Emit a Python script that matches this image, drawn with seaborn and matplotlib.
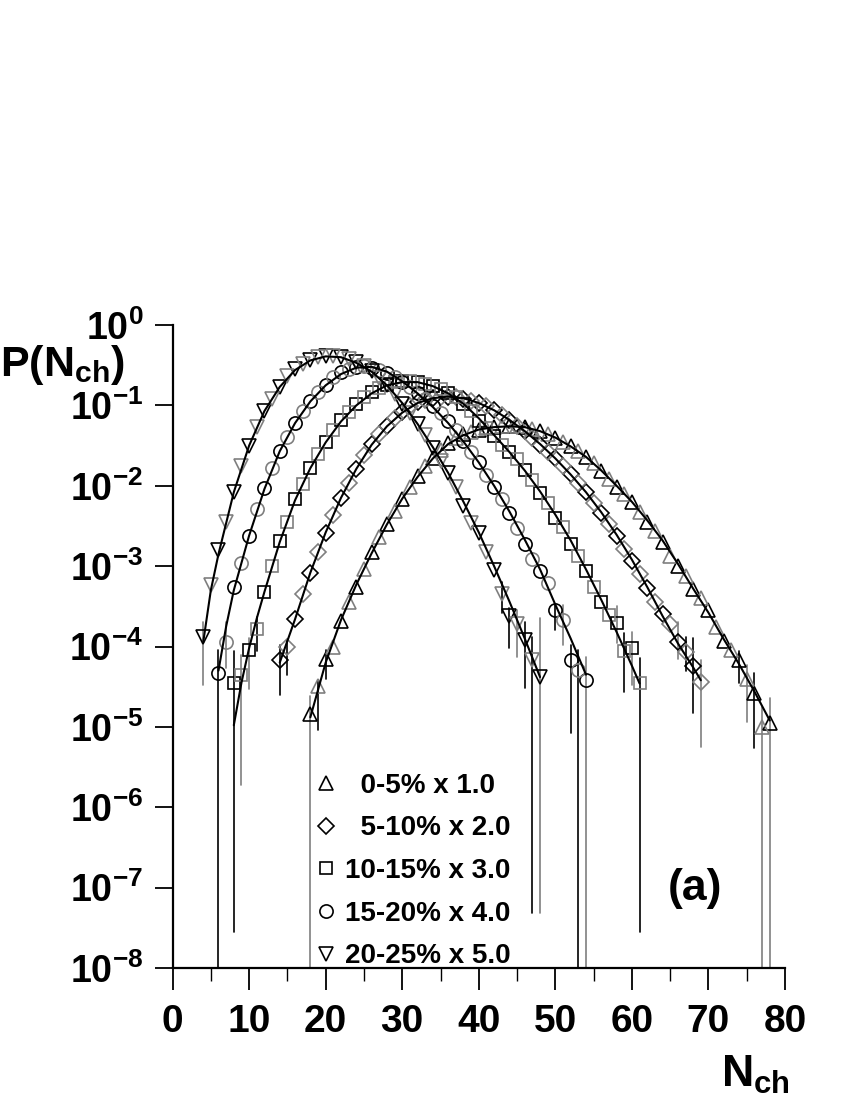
import numpy as np
import seaborn as sns
import matplotlib.pyplot as plt
import pandas as pd

# data: log10 P(Nch), scaled values as drawn
n_0_5 = list(range(18, 79))
lp_0_5 = [-4.84, -4.49, -4.15, -4.01, -3.68, -3.45, -3.26, -3.04, -2.82, -2.64,
          -2.47, -2.31, -2.16, -2.02, -1.88, -1.76, -1.65, -1.55, -1.47, -1.41,
          -1.36, -1.33, -1.30, -1.28, -1.27, -1.26, -1.26, -1.26, -1.27, -1.29,
          -1.32, -1.36, -1.40, -1.45, -1.51, -1.57, -1.64, -1.72, -1.81, -1.91,
          -2.01, -2.10, -2.20, -2.32, -2.45, -2.56, -2.70, -2.87, -3.00, -3.12,
          -3.29, -3.39, -3.54, -3.76, -3.93, -4.04, -4.17, -4.40, -4.58, -5.00,
          -4.95]
n_5_10 = list(range(14, 70))
lp_5_10 = [-4.17, -4.01, -3.66, -3.35, -3.09, -2.82, -2.59, -2.36, -2.15, -1.96,
           -1.79, -1.62, -1.48, -1.36, -1.25, -1.16, -1.08, -1.01, -0.96, -0.93,
           -0.91, -0.90, -0.89, -0.90, -0.92, -0.94, -0.97, -1.01, -1.06, -1.12,
           -1.18, -1.25, -1.32, -1.40, -1.49, -1.58, -1.66, -1.75, -1.85, -1.97,
           -2.08, -2.21, -2.34, -2.47, -2.63, -2.79, -2.94, -3.10, -3.27, -3.44,
           -3.60, -3.72, -3.94, -4.07, -4.24, -4.44]
n_10_15 = list(range(8, 62))
lp_10_15 = [-4.45, -4.36, -4.04, -3.78, -3.32, -3.00, -2.69, -2.45, -2.17, -1.98,
            -1.78, -1.60, -1.45, -1.31, -1.18, -1.08, -0.98, -0.90, -0.83, -0.78,
            -0.74, -0.71, -0.70, -0.70, -0.71, -0.73, -0.76, -0.79, -0.84, -0.90,
            -0.98, -1.07, -1.19, -1.28, -1.38, -1.49, -1.58, -1.67, -1.80, -1.93,
            -2.09, -2.22, -2.40, -2.51, -2.72, -2.87, -3.06, -3.26, -3.44, -3.61,
            -3.71, -4.06, -4.02, -4.46]
n_15_20 = list(range(6, 55))
lp_15_20 = [-4.33, -3.94, -3.26, -2.96, -2.62, -2.29, -2.03, -1.78, -1.57, -1.39,
            -1.22, -1.07, -0.95, -0.83, -0.74, -0.65, -0.59, -0.55, -0.52, -0.51,
            -0.53, -0.56, -0.60, -0.65, -0.71, -0.77, -0.84, -0.92, -1.01, -1.10,
            -1.20, -1.31, -1.44, -1.58, -1.71, -1.87, -2.02, -2.16, -2.34, -2.52,
            -2.73, -2.91, -3.06, -3.21, -3.54, -3.67, -4.17, -4.29, -4.42]
n_20_25 = list(range(4, 49))
lp_20_25 = [-3.88, -3.23, -2.80, -2.45, -2.08, -1.75, -1.50, -1.27, -1.07, -0.92,
            -0.77, -0.64, -0.55, -0.48, -0.435, -0.40, -0.38, -0.38, -0.40, -0.42,
            -0.46, -0.51, -0.57, -0.66, -0.75, -0.86, -0.98, -1.10, -1.23, -1.37,
            -1.53, -1.69, -1.84, -2.02, -2.25, -2.46, -2.59, -2.83, -3.05, -3.35,
            -3.62, -3.72, -3.92, -4.17, -4.38]

# fitted curves (log10)
fn_0_5 = [18, 20, 22, 24, 26, 28, 30, 32, 34, 36, 38, 40, 42, 44, 46, 48, 50,
          52, 54, 56, 58, 60, 62, 64, 66, 68, 70, 72, 74, 76, 78]
fl_0_5 = [-4.88, -4.20, -3.67, -3.23, -2.84, -2.48, -2.16, -1.89, -1.66, -1.48,
          -1.37, -1.30, -1.27, -1.26, -1.27, -1.32, -1.40, -1.51, -1.64, -1.81,
          -2.00, -2.20, -2.43, -2.68, -2.97, -3.28, -3.58, -3.91, -4.22, -4.56,
          -4.92]
fn_5_10 = [14, 16, 18, 20, 22, 24, 26, 28, 30, 32, 34, 36, 38, 40, 42, 44, 46,
           48, 50, 52, 54, 56, 58, 60, 62, 64, 66, 68, 69]
fl_5_10 = [-4.20, -3.66, -3.08, -2.58, -2.15, -1.79, -1.49, -1.26, -1.09, -0.97,
           -0.91, -0.89, -0.91, -0.97, -1.06, -1.18, -1.32, -1.48, -1.66, -1.86,
           -2.08, -2.33, -2.61, -2.92, -3.26, -3.62, -3.96, -4.26, -4.42]
fn_10_15 = [8, 9, 10, 11, 12, 14, 16, 18, 20, 22, 24, 26, 28, 30, 32, 34, 36,
            38, 40, 42, 44, 46, 48, 50, 52, 54, 56, 58, 60, 61]
fl_10_15 = [-4.98, -4.45, -4.02, -3.65, -3.32, -2.70, -2.18, -1.78, -1.46, -1.20,
            -1.00, -0.85, -0.75, -0.71, -0.71, -0.76, -0.85, -0.98, -1.16, -1.37,
            -1.58, -1.81, -2.07, -2.36, -2.68, -3.04, -3.42, -3.82, -4.24, -4.46]
fn_15_20 = [6, 7, 8, 10, 12, 14, 16, 18, 20, 22, 24, 26, 28, 30, 32, 34, 36,
            38, 40, 42, 44, 46, 48, 50, 52, 54]
fl_15_20 = [-4.30, -3.75, -3.30, -2.62, -2.04, -1.57, -1.22, -0.95, -0.75, -0.61,
            -0.53, -0.52, -0.58, -0.70, -0.85, -1.02, -1.22, -1.45, -1.71, -2.00,
            -2.32, -2.67, -3.04, -3.48, -3.90, -4.35]
fn_20_25 = [4, 5, 6, 8, 10, 12, 14, 16, 18, 20, 22, 24, 26, 28, 30, 32, 34, 36,
            38, 40, 42, 44, 46, 48]
fl_20_25 = [-3.95, -3.30, -2.85, -2.08, -1.50, -1.07, -0.77, -0.56, -0.44, -0.39,
            -0.40, -0.47, -0.58, -0.75, -0.97, -1.23, -1.52, -1.84, -2.20, -2.58,
            -3.00, -3.44, -3.90, -4.38]

# visible error bars: N, log10 low, log10 high, shade (-9 = runs off the axis)
err_0_5 = [(18, -9, -4.62, 'g'), (19, -5.04, -4.42, 'k'), (20, -4.40, -4.04, 'k'),
           (74, -4.45, -4.05, 'k'), (75, -4.94, -4.23, 'g'), (76, -5.26, -4.33, 'k'),
           (77, -9, -4.75, 'g'), (78, -9, -4.64, 'g')]
err_5_10 = [(14, -4.60, -3.98, 'k'), (15, -4.35, -3.92, 'k'), (66, -4.15, -3.70, 'g'),
            (67, -4.31, -3.88, 'k'), (68, -4.83, -3.90, 'k'), (69, -5.25, -4.17, 'g')]
err_10_15 = [(8, -7.55, -4.05, 'k'), (9, -5.72, -4.10, 'g'), (10, -4.53, -3.90, 'g'),
             (11, -4.06, -3.63, 'k'), (58, -3.95, -3.50, 'g'), (59, -4.56, -3.83, 'k'),
             (60, -4.48, -3.82, 'g'), (61, -7.55, -4.14, 'k')]
err_15_20 = [(6, -9, -4.04, 'k'), (7, -4.27, -3.70, 'g'), (50, -3.79, -3.48, 'k'),
             (51, -3.98, -3.48, 'g'), (52, -5.07, -3.98, 'k'), (53, -9, -4.04, 'k'),
             (54, -9, -4.13, 'g')]
err_20_25 = [(4, -4.48, -3.69, 'g'), (43, -3.58, -3.20, 'k'), (44, -4.02, -3.52, 'k'),
             (45, -4.13, -3.54, 'g'), (46, -4.51, -3.69, 'k'), (47, -7.31, -3.88, 'k'),
             (48, -7.31, -3.65, 'g')]

labels = ['  0-5% x 1.0', '  5-10% x 2.0', '10-15% x 3.0', '15-20% x 4.0', '20-25% x 5.0']
markers = ['^', 'D', 's', 'o', 'v']
msizes = [10, 8.5, 8.5, 9.5, 10]
points = [(n_0_5, lp_0_5), (n_5_10, lp_5_10), (n_10_15, lp_10_15),
          (n_15_20, lp_15_20), (n_20_25, lp_20_25)]
fits = [(fn_0_5, fl_0_5), (fn_5_10, fl_5_10), (fn_10_15, fl_10_15),
        (fn_15_20, fl_15_20), (fn_20_25, fl_20_25)]
errs = [err_0_5, err_5_10, err_10_15, err_15_20, err_20_25]

sns.set_theme(style='ticks')
plt.rcParams['font.family'] = ['Liberation Sans', 'DejaVu Sans']
plt.rcParams['font.weight'] = 'bold'
plt.rcParams['text.color'] = 'black'
plt.rcParams['axes.labelcolor'] = 'black'
plt.rcParams['xtick.color'] = 'black'
plt.rcParams['ytick.color'] = 'black'
plt.rcParams['mathtext.fontset'] = 'custom'
plt.rcParams['mathtext.rm'] = 'Liberation Sans:bold'
plt.rcParams['mathtext.bf'] = 'Liberation Sans:bold'
plt.rcParams['mathtext.it'] = 'Liberation Sans:bold'
plt.rcParams['mathtext.default'] = 'bf'

shade = {'k': 'black', 'g': '#7f7f7f'}

fig = plt.figure(figsize=(8.5, 11), dpi=100)
ax = fig.add_axes([0.203, 0.12, 0.7206, 0.5845])

for i in range(5):
    fx, fl = fits[i]
    sns.lineplot(x=fx, y=10.0 ** np.array(fl), ax=ax, color='black', lw=1.5,
                 sort=False, zorder=4)
    for (n, lo, hi, c) in errs[i]:
        ax.plot([n, n], [10.0 ** lo, 10.0 ** hi], color=shade[c], lw=1.2, zorder=2)
    nx, lp = points[i]
    nx = np.array(nx)
    lp = np.array(lp)
    for par, c in [(0, 'k'), (1, 'g')]:
        sel = nx % 2 == par
        ax.plot(nx[sel], 10.0 ** lp[sel], ls='none', marker=markers[i],
                ms=msizes[i], mfc='none', mec=shade[c], mew=1.2, zorder=3)

ax.set_yscale('log')
ax.set_xlim(0, 80)
ax.set_ylim(1e-8, 1)
ax.set_xticks(range(0, 81, 10))
ax.set_xticks(range(5, 80, 10), minor=True)
ax.set_yticks([10.0 ** k for k in range(-8, 1)])
ax.set_yticklabels([r'$\mathbf{10^{%d}}$' % k for k in range(-8, 1)])
for s in ['top', 'right']:
    ax.spines[s].set_visible(False)
for s in ['left', 'bottom']:
    ax.spines[s].set_linewidth(1.6)
    ax.spines[s].set_color('black')
ax.tick_params(axis='y', which='major', direction='out', length=13, width=1.3,
               pad=8, labelsize=27, colors='black')
ax.tick_params(axis='y', which='minor', direction='out', length=7, width=1.0)
ax.tick_params(axis='x', which='major', direction='out', length=16, width=1.3,
               pad=10, labelsize=28, colors='black')
ax.tick_params(axis='x', which='minor', direction='out', length=9, width=1.0)
for lab in ax.get_xticklabels():
    lab.set_fontweight('bold')
ax.grid(False)

handles = [plt.Line2D([], [], ls='none', marker=m, ms=s, mfc='none', mec='black', mew=1.2)
           for m, s in zip(markers, msizes)]
leg = ax.legend(handles, labels, loc='upper left', bbox_to_anchor=(0.214, 0.321),
                frameon=False, prop=dict(family='Liberation Sans', weight='bold', size=20),
                handlelength=0.8, handletextpad=0.3, labelspacing=0.6, borderaxespad=0)
for t in leg.get_texts():
    t.set_color('black')

ax.text(0.853, 0.123, '(a)', transform=ax.transAxes, ha='center', va='center',
        fontsize=32, fontweight='bold', color='black')
fig.text(0.0, 0.668, r'$\mathbf{P(N_{ch})}$', ha='left', va='center', fontsize=31,
         color='black')
fig.text(0.889, 0.023, r'$\mathbf{N_{ch}}$', ha='center', va='center', fontsize=32,
         color='black')

fig.savefig('out.png', dpi=100)
